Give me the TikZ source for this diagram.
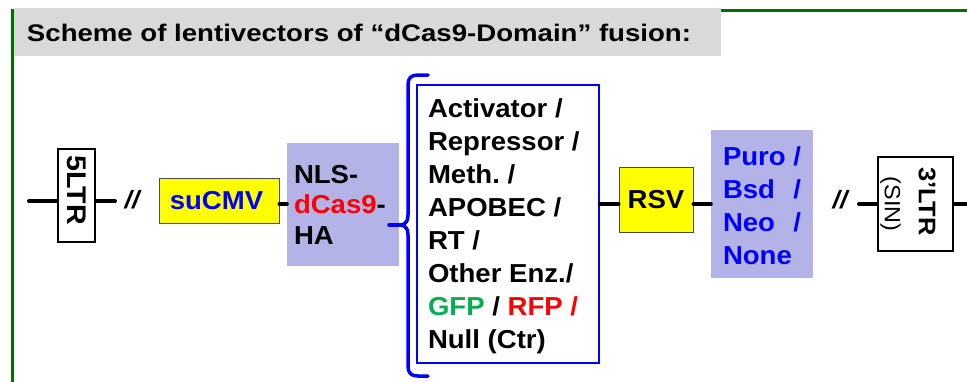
\documentclass[tikz,border=0pt]{standalone}
\usepackage{fontspec}
\usepackage{calc}
\setmainfont{Liberation Sans}[FakeStretch=1.06]
\newfontfamily\titlefont{Liberation Sans}[FakeStretch=1.15]
\frenchspacing
\definecolor{framegreen}{RGB}{0,112,0}
\definecolor{titlegray}{RGB}{217,217,217}
\definecolor{lav}{RGB}{179,179,232}
\definecolor{gfpgreen}{RGB}{0,176,80}
\definecolor{pblue}{RGB}{0,0,255}
\definecolor{pred}{RGB}{255,0,0}
\definecolor{pyellow}{RGB}{255,255,0}
\tikzset{
  big/.style={font=\fontsize{26}{33}\selectfont\bfseries},
  txt/.style={inner sep=0pt, outer sep=0pt},
  ltrbox/.style={draw=black, line width=2.2pt, fill=white, inner sep=0pt},
  yelbox/.style={draw=black!70, line width=1pt, fill=pyellow, inner sep=0pt},
  lavbox/.style={fill=lav, draw=none, inner sep=0pt},
  listbox/.style={draw=pblue, line width=1.5pt, fill=white, inner sep=0pt},
  conn/.style={line width=4pt, line cap=round},
  bracestyle/.style={draw=pblue, line width=3.5pt, line cap=round, line join=round},
  cutmark/.style={txt, font=\fontsize{25}{25}\selectfont\bfseries\itshape}
}
\begin{document}
\begin{tikzpicture}[x=1pt,y=-1pt]
\useasboundingbox (0,0) rectangle (967,381);
% frame
\draw[framegreen, line width=3pt] (12.5,385) -- (12.5,10) -- (970,10);
\node[fill=titlegray, minimum width=707pt, minimum height=48pt, anchor=north west, inner sep=0pt] (titlebox) at (14,8) {};
\node[txt, anchor=base west, font=\titlefont\fontsize{24}{24}\selectfont\bfseries] (title) at (27,41) {Scheme of lentivectors of “dCas9-Domain” fusion:};

% reference coordinates
\coordinate (ya) at (0,201);
\coordinate (yb) at (0,204);
\coordinate (s0) at (29,201);
\coordinate (s1) at (115,201);
\coordinate (s2) at (859,204);
\coordinate (s3) at (967,204);
\coordinate (btip) at (389,225);

% 5'LTR
\node[ltrbox, minimum width=37pt, minimum height=93pt] (ltr5) at (76.5,195.5) {};
\node[txt, rotate=-90, font=\fontsize{27}{27}\selectfont\bfseries] (ltr5t) at (76.5,190) {5LTR};
\draw[conn] (s0) -- (ltr5.west |- ya);
\draw[conn] (ltr5.east |- ya) -- (s1);
\node[cutmark] (cut1) at (132,200) {//};

% suCMV
\node[yelbox, minimum width=120pt, minimum height=45pt] (sucmv) at (219,200.5) {};
\node[txt, big, text=pblue] (sucmvt) at (216.5,201) {suCMV};

% NLS-dCas9-HA
\node[lavbox, minimum width=112pt, minimum height=123pt] (nls) at (343,204.5) {};
\node[txt, anchor=base west, align=left, font=\fontsize{26}{30.5}\selectfont\bfseries] (nlst) at (294,244) {NLS-\\\textcolor{pred}{dCas9}-\\HA};
\draw[conn] (sucmv.east |- yb) -- (nls.west |- yb);

% brace
\draw[bracestyle] (428,75) -- (418,75) .. controls (411,75) and (408,78) .. (408,85) -- (408,215) .. controls (408,221) and (406,224) .. (401,225) .. controls (406,226) and (408,229) .. (408,235) -- (408,366) .. controls (408,373) and (411,376) .. (418,376) -- (428,376);
\draw[bracestyle] (btip) -- (402,225);

% domain list
\node[listbox, minimum width=182pt, minimum height=278pt] (list) at (508,224) {};
\node[txt, anchor=base west, align=left, font=\fontsize{26}{33}\selectfont\bfseries] (listt) at (428,348) {Activator /\\Repressor /\\Meth. /\\APOBEC /\\RT /\\Other Enz./\\\textcolor{gfpgreen}{GFP} / \textcolor{pred}{RFP /}\\Null (Ctr)};

% RSV
\node[yelbox, minimum width=74pt, minimum height=65pt] (rsv) at (656,199.5) {};
\node[txt, big] (rsvt) at (656,200) {RSV};
\draw[conn] (list.east |- yb) -- (rsv.west |- yb);

% selection markers
\node[lavbox, minimum width=102pt, minimum height=148pt] (puro) at (762,204) {};
\node[txt, anchor=base west, align=left, text=pblue, font=\fontsize{26}{33}\selectfont\bfseries] (purot) at (723,264) {Puro /\\\makebox[\widthof{Puro }][l]{Bsd}/\\\makebox[\widthof{Puro }][l]{Neo}/\\None};
\draw[conn] (rsv.east |- yb) -- (puro.west |- yb);

\node[cutmark] (cut2) at (840,200) {//};

% 3'LTR
\node[ltrbox, minimum width=75pt, minimum height=94pt] (ltr3) at (915.5,204) {};
\node[txt, rotate=-90, font=\fontsize{24}{24}\selectfont\bfseries] (ltr3a) at (927,201.5) {3’LTR};
\node[txt, rotate=-90, font=\fontsize{22}{22}\selectfont] (ltr3b) at (890.5,204) {(SIN)};
\draw[conn] (s2) -- (ltr3.west);
\draw[conn] (ltr3.east) -- (s3);
\end{tikzpicture}
\end{document}
